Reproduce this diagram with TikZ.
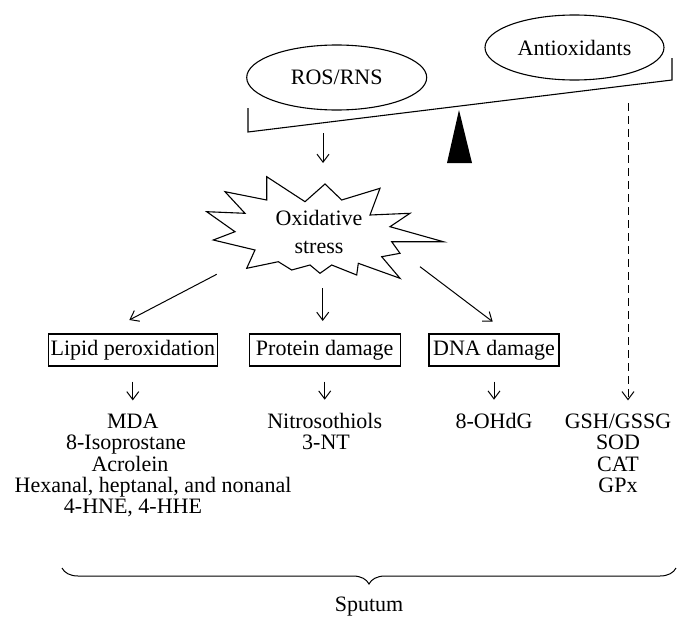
\documentclass[tikz,border=0pt]{standalone}
\usepackage{fontspec}
\setmainfont{Liberation Serif}
\usepackage{tikz}
\usetikzlibrary{calc,shapes,positioning}
\usetikzlibrary{arrows.meta,decorations.pathreplacing}

\begin{document}
\begin{tikzpicture}[x=1pt,y=-1pt,line width=1.1pt]
      \tikzstyle{enode} = [draw, ellipse, minimum width=180pt, minimum height=65pt, inner sep=0pt, font=\fontsize{22}{26}\selectfont]
      \tikzstyle{bnode} = [draw, rectangle, minimum height=32pt, inner xsep=2.5pt, font=\fontsize{22}{26}\selectfont]
      \tikzstyle{tnode} = [anchor=base, inner sep=0pt, font=\fontsize{22}{26}\selectfont]
      \tikzstyle{arr} = [-{Straight Barb[length=8pt,width=12pt]}, line width=1pt]

      \useasboundingbox (0,0) rectangle (686,632);

      % balance
      \node[enode] (ros) at (336.7,77.5) {ROS/RNS};
      \node[enode, minimum width=179pt] (anti) at (574.5,47.5) {Antioxidants};
      \draw (248,108) -- (248,132) -- (672,80) -- (672,58);
      \fill (459,110) -- (447,163) -- (472,163) -- cycle;

      % oxidative stress
      \draw[line join=miter] (266.7,176.7) -- (305,201.7) -- (325,184) -- (341.7,200) -- (380,188.3)
        -- (370,215) -- (410,213.3) -- (390,226.7) -- (443.3,241.7) -- (391.7,241.7)
        -- (400,253.3) -- (381.7,256.7) -- (400,278.3) -- (358.3,263.3) -- (356.7,275)
        -- (331.7,265) -- (320,273.3) -- (310,265) -- (291.7,270) -- (278.3,261.7)
        -- (246.7,268.3) -- (255,250) -- (213.3,240) -- (235,231.7) -- (206.7,211.7)
        -- (245,213.3) -- (225,191.7) -- (266.7,200) -- cycle;
      \node[align=center, inner sep=0pt, font=\fontsize{22}{28}\selectfont] (ox) at (319,231.5) {Oxidative\\stress};

      \node[bnode, minimum width=169pt] (lip) at (132.8,350) {Lipid peroxidation};
      \node[bnode, minimum width=151pt] (prot) at (324.7,350) {Protein damage};
      \node[bnode, minimum width=130pt] (dna) at (494,350) {DNA damage};

      % markers
      \node[tnode] (mda) at (132.8,428.5) {MDA};
      \node[tnode] (iso) at (126,449.8) {8-Isoprostane};
      \node[tnode] (acr) at (130,471.1) {Acrolein};
      \node[tnode] (hex) at (153,492.4) {Hexanal, heptanal, and nonanal};
      \node[tnode] (hne) at (133,513.7) {4-HNE, 4-HHE};
      \node[tnode] (nit) at (324.7,428.5) {Nitrosothiols};
      \node[tnode] (nt) at (326,449.8) {3-NT};
      \node[tnode] (ohdg) at (494,428.5) {8-OHdG};
      \node[tnode] (gsh) at (618,428.5) {GSH/GSSG};
      \node[tnode] (sod) at (618,449.8) {SOD};
      \node[tnode] (cat) at (618,471.1) {CAT};
      \node[tnode] (gpx) at (618,492.4) {GPx};
      \node[tnode] (sput) at (369,611) {Sputum};

      % connections
      \coordinate (r0) at (323,133);
      \coordinate (r1) at (323,163);
      \coordinate (l0) at (216.7,274.3);
      \coordinate (l1) at (129.3,320);
      \coordinate (m0) at (322.7,288.3);
      \coordinate (m1) at (322.7,321);
      \coordinate (n0) at (420,266.7);
      \coordinate (n1) at (492.7,321.7);
      \coordinate (d0) at (628,103);
      \draw[arr] (r0) -- (r1);
      \draw[arr] (l0) -- (l1);
      \draw[arr] (m0) -- (m1);
      \draw[arr] (n0) -- (n1);
      \draw[arr, shorten <=15pt, shorten >=13pt] (lip.south) -- (lip.south |- mda.north);
      \draw[arr, shorten <=15pt, shorten >=13pt] (prot.south) -- (prot.south |- nit.north);
      \draw[arr, shorten <=15pt, shorten >=13pt] (dna.south) -- (dna.south |- ohdg.north);
      \draw[arr, dashed, dash pattern=on 8pt off 5pt, shorten >=13pt] (d0) -- (d0 |- gsh.north);
      \draw[decorate, decoration={brace, mirror, amplitude=16pt}, line width=1pt] (62,568) -- (676,568);
\end{tikzpicture}
\end{document}
